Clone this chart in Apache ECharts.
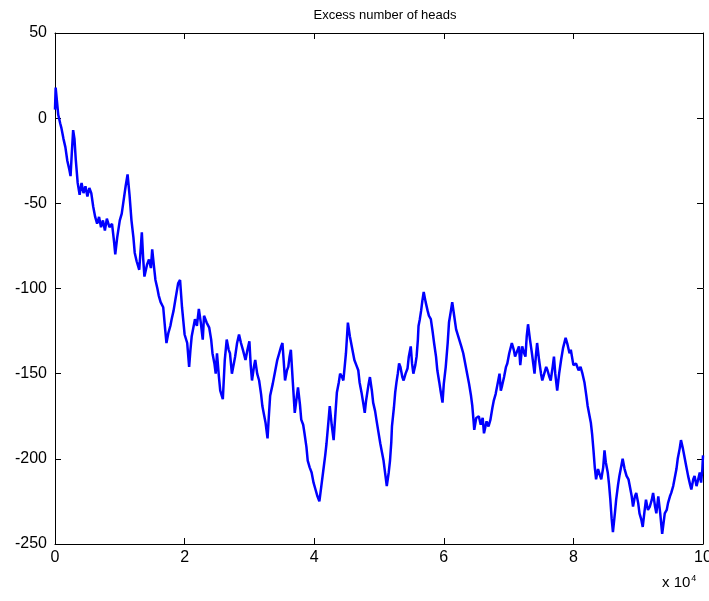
<!DOCTYPE html>
<html>
<head>
<meta charset="utf-8">
<script src="https://cdn.jsdelivr.net/npm/echarts@6/dist/echarts.min.js"></script>
<style>
html,body{margin:0;padding:0;background:#fff;}
#chart{width:709px;height:601px;}
</style>
</head>
<body>
<div id="chart"></div>
<script>
// x positions in units of 10^4 tosses
const xs = [
0.00,0.01,0.03,0.05,0.08,0.10,0.13,0.16,0.19,0.22,0.24,0.26,0.28,0.30,0.32,0.35,0.38,0.41,0.44,0.47,
0.50,0.53,0.56,0.59,0.62,0.65,0.68,0.71,0.74,0.77,0.80,0.84,0.88,0.91,0.93,0.96,1.00,1.03,1.06,1.09,
1.12,1.15,1.18,1.21,1.23,1.26,1.30,1.32,1.34,1.36,1.38,1.42,1.45,1.48,1.50,1.53,1.55,1.58,1.60,1.63,
1.67,1.70,1.72,1.75,1.78,1.80,1.83,1.86,1.90,1.93,1.96,2.00,2.04,2.07,2.09,2.11,2.14,2.16,2.19,2.22,
2.25,2.28,2.30,2.34,2.38,2.41,2.43,2.46,2.48,2.50,2.53,2.55,2.59,2.62,2.65,2.68,2.70,2.73,2.76,2.78,
2.81,2.84,2.87,2.90,2.94,2.97,3.00,3.02,3.04,3.07,3.09,3.12,3.15,3.18,3.20,3.23,3.25,3.28,3.30,3.32,
3.36,3.40,3.43,3.46,3.49,3.51,3.53,3.55,3.58,3.60,3.62,3.64,3.67,3.70,3.73,3.75,3.78,3.80,3.83,3.85,
3.88,3.90,3.93,3.96,3.99,4.02,4.05,4.08,4.11,4.14,4.17,4.19,4.22,4.24,4.27,4.30,4.33,4.35,4.38,4.40,
4.43,4.45,4.47,4.49,4.51,4.52,4.55,4.57,4.60,4.62,4.65,4.68,4.70,4.73,4.76,4.78,4.80,4.82,4.84,4.86,
4.89,4.91,4.94,4.96,4.99,5.02,5.05,5.07,5.10,5.12,5.15,5.17,5.19,5.20,5.23,5.25,5.27,5.29,5.31,5.33,
5.36,5.38,5.41,5.44,5.46,5.49,5.51,5.53,5.56,5.58,5.60,5.61,5.63,5.65,5.67,5.69,5.72,5.75,5.77,5.80,
5.83,5.85,5.88,5.90,5.93,5.95,5.98,6.00,6.03,6.06,6.08,6.11,6.13,6.16,6.19,6.23,6.27,6.30,6.32,6.36,
6.39,6.42,6.44,6.46,6.47,6.50,6.54,6.57,6.60,6.62,6.66,6.69,6.72,6.75,6.77,6.80,6.83,6.86,6.88,6.90,
6.93,6.96,6.98,7.01,7.05,7.08,7.10,7.13,7.16,7.18,7.21,7.24,7.26,7.28,7.30,7.33,7.36,7.38,7.40,7.42,
7.44,7.47,7.50,7.52,7.55,7.58,7.60,7.63,7.65,7.68,7.70,7.72,7.75,7.78,7.81,7.84,7.88,7.91,7.94,7.96,
8.00,8.04,8.08,8.11,8.14,8.17,8.20,8.22,8.25,8.27,8.29,8.31,8.33,8.35,8.38,8.40,8.43,8.46,8.48,8.50,
8.53,8.55,8.57,8.59,8.61,8.64,8.66,8.69,8.71,8.74,8.76,8.79,8.82,8.85,8.87,8.90,8.92,8.95,8.97,9.00,
9.02,9.05,9.07,9.10,9.12,9.15,9.18,9.21,9.23,9.26,9.28,9.31,9.34,9.37,9.39,9.41,9.44,9.46,9.49,9.51,
9.54,9.56,9.59,9.61,9.64,9.66,9.69,9.71,9.74,9.77,9.80,9.82,9.85,9.87,9.90,9.92,9.95,9.97,9.99,10.00
];
// excess number of heads
const heads = [
5,18,10,2,-3,-6,-12,-17,-25,-30,-34,-20,-7,-12,-24,-38,-45,-38,-44,-40,
-46,-41,-44,-52,-58,-62,-58,-64,-60,-66,-59,-64,-62,-72,-80,-70,-60,-56,-48,-40,
-33,-45,-60,-70,-79,-84,-89,-78,-67,-82,-93,-86,-83,-88,-77,-88,-95,-100,-104,-108,
-111,-124,-132,-126,-122,-118,-113,-106,-97,-95,-111,-127,-132,-146,-136,-128,-122,-118,-122,-112,
-120,-130,-116,-120,-123,-130,-138,-144,-150,-138,-152,-160,-165,-142,-130,-136,-138,-150,-144,-140,
-132,-127,-132,-136,-142,-136,-131,-145,-154,-146,-142,-150,-154,-162,-169,-175,-179,-188,-175,-163,
-156,-148,-142,-138,-134,-132,-143,-154,-148,-146,-140,-136,-155,-173,-164,-158,-168,-177,-180,-185,
-193,-201,-205,-208,-214,-218,-222,-225,-216,-207,-198,-191,-178,-169,-180,-189,-172,-161,-155,-150,
-152,-154,-146,-138,-126,-120,-128,-132,-138,-142,-145,-148,-155,-161,-168,-173,-166,-161,-156,-152,
-160,-167,-172,-177,-184,-191,-197,-201,-210,-216,-208,-201,-190,-181,-170,-161,-155,-150,-144,-146,
-152,-154,-150,-147,-140,-134,-144,-150,-145,-140,-130,-122,-118,-113,-107,-102,-108,-113,-116,-118,
-126,-132,-140,-148,-155,-160,-167,-156,-146,-132,-120,-113,-108,-116,-124,-129,-134,-138,-142,-150,
-156,-163,-169,-178,-183,-176,-175,-180,-176,-185,-178,-181,-177,-170,-166,-162,-156,-150,-160,-157,
-152,-146,-144,-138,-132,-136,-140,-140,-134,-145,-134,-138,-140,-128,-121,-130,-138,-144,-150,-140,
-132,-142,-150,-154,-150,-146,-148,-152,-154,-146,-140,-150,-160,-150,-142,-135,-129,-133,-138,-136,
-145,-144,-148,-146,-150,-155,-163,-169,-175,-179,-186,-195,-205,-212,-206,-207,-212,-205,-195,-202,
-208,-215,-224,-235,-243,-232,-224,-215,-210,-204,-200,-206,-210,-212,-216,-222,-228,-222,-220,-226,
-232,-236,-240,-230,-224,-230,-228,-224,-220,-228,-232,-222,-232,-244,-238,-232,-230,-226,-222,-220,
-216,-212,-206,-200,-194,-189,-194,-198,-204,-210,-215,-218,-212,-210,-216,-213,-208,-214,-206,-198
];
const xTicks = [0, 2, 4, 6, 8, 10];
const yTicks = [-250, -200, -150, -100, -50, 0, 50];
const titleText = 'Excess number of heads';
const xExponent = 4;

const pts = xs.map((x, i) => [x, heads[i]]);
const FONT = '"Liberation Sans", Arial, sans-serif';
const axisLineStyle = { color: '#000', width: 1 };

const chart = echarts.init(document.getElementById('chart'), null, { renderer: 'canvas' });
const tickCommon = { show: true, inside: true, length: 6, lineStyle: { color: '#000', width: 1 } };

chart.setOption({
  animation: false,
  backgroundColor: '#fff',
  title: [
    {
      text: titleText, left: 380, top: 4, textAlign: 'center',
      textStyle: { fontFamily: FONT, fontSize: 13, fontWeight: 'normal', color: '#000' }
    },
    {
      text: 'x 10{sup|' + xExponent + '}', left: 657, top: 569,
      textStyle: {
        fontFamily: FONT, fontSize: 15, fontWeight: 'normal', color: '#000',
        rich: { sup: { fontFamily: FONT, fontSize: 9, verticalAlign: 'top', padding: [0, 0, 9, 1], color: '#000' } }
      }
    }
  ],
  grid: { left: 55, right: 6, top: 33, bottom: 57, containLabel: false, outerBoundsMode: 'none', show: false },
  xAxis: [
    {
      type: 'value', min: xTicks[0], max: xTicks[xTicks.length - 1], interval: 2, position: 'bottom',
      axisLine: { show: true, onZero: false, lineStyle: axisLineStyle },
      axisTick: tickCommon, splitLine: { show: false },
      axisLabel: { show: true, margin: 6, fontFamily: FONT, fontSize: 16, color: '#000' }
    },
    {
      type: 'value', min: xTicks[0], max: xTicks[xTicks.length - 1], interval: 2, position: 'top',
      axisLine: { show: true, onZero: false, lineStyle: axisLineStyle },
      axisTick: tickCommon, splitLine: { show: false }, axisLabel: { show: false }
    }
  ],
  yAxis: [
    {
      type: 'value', min: yTicks[0], max: yTicks[yTicks.length - 1], interval: 50, position: 'left',
      axisLine: { show: true, onZero: false, lineStyle: axisLineStyle },
      axisTick: tickCommon, splitLine: { show: false },
      axisLabel: { show: true, margin: 8, fontFamily: FONT, fontSize: 16, color: '#000' }
    },
    {
      type: 'value', min: yTicks[0], max: yTicks[yTicks.length - 1], interval: 50, position: 'right',
      axisLine: { show: true, onZero: false, lineStyle: axisLineStyle },
      axisTick: tickCommon, splitLine: { show: false }, axisLabel: { show: false }
    }
  ],
  series: [
    {
      type: 'line', xAxisIndex: 0, yAxisIndex: 0, data: pts, showSymbol: false, symbol: 'none',
      lineStyle: { color: '#0000ff', width: 2.5 }, clip: true
    }
  ]
});
</script>
</body>
</html>
